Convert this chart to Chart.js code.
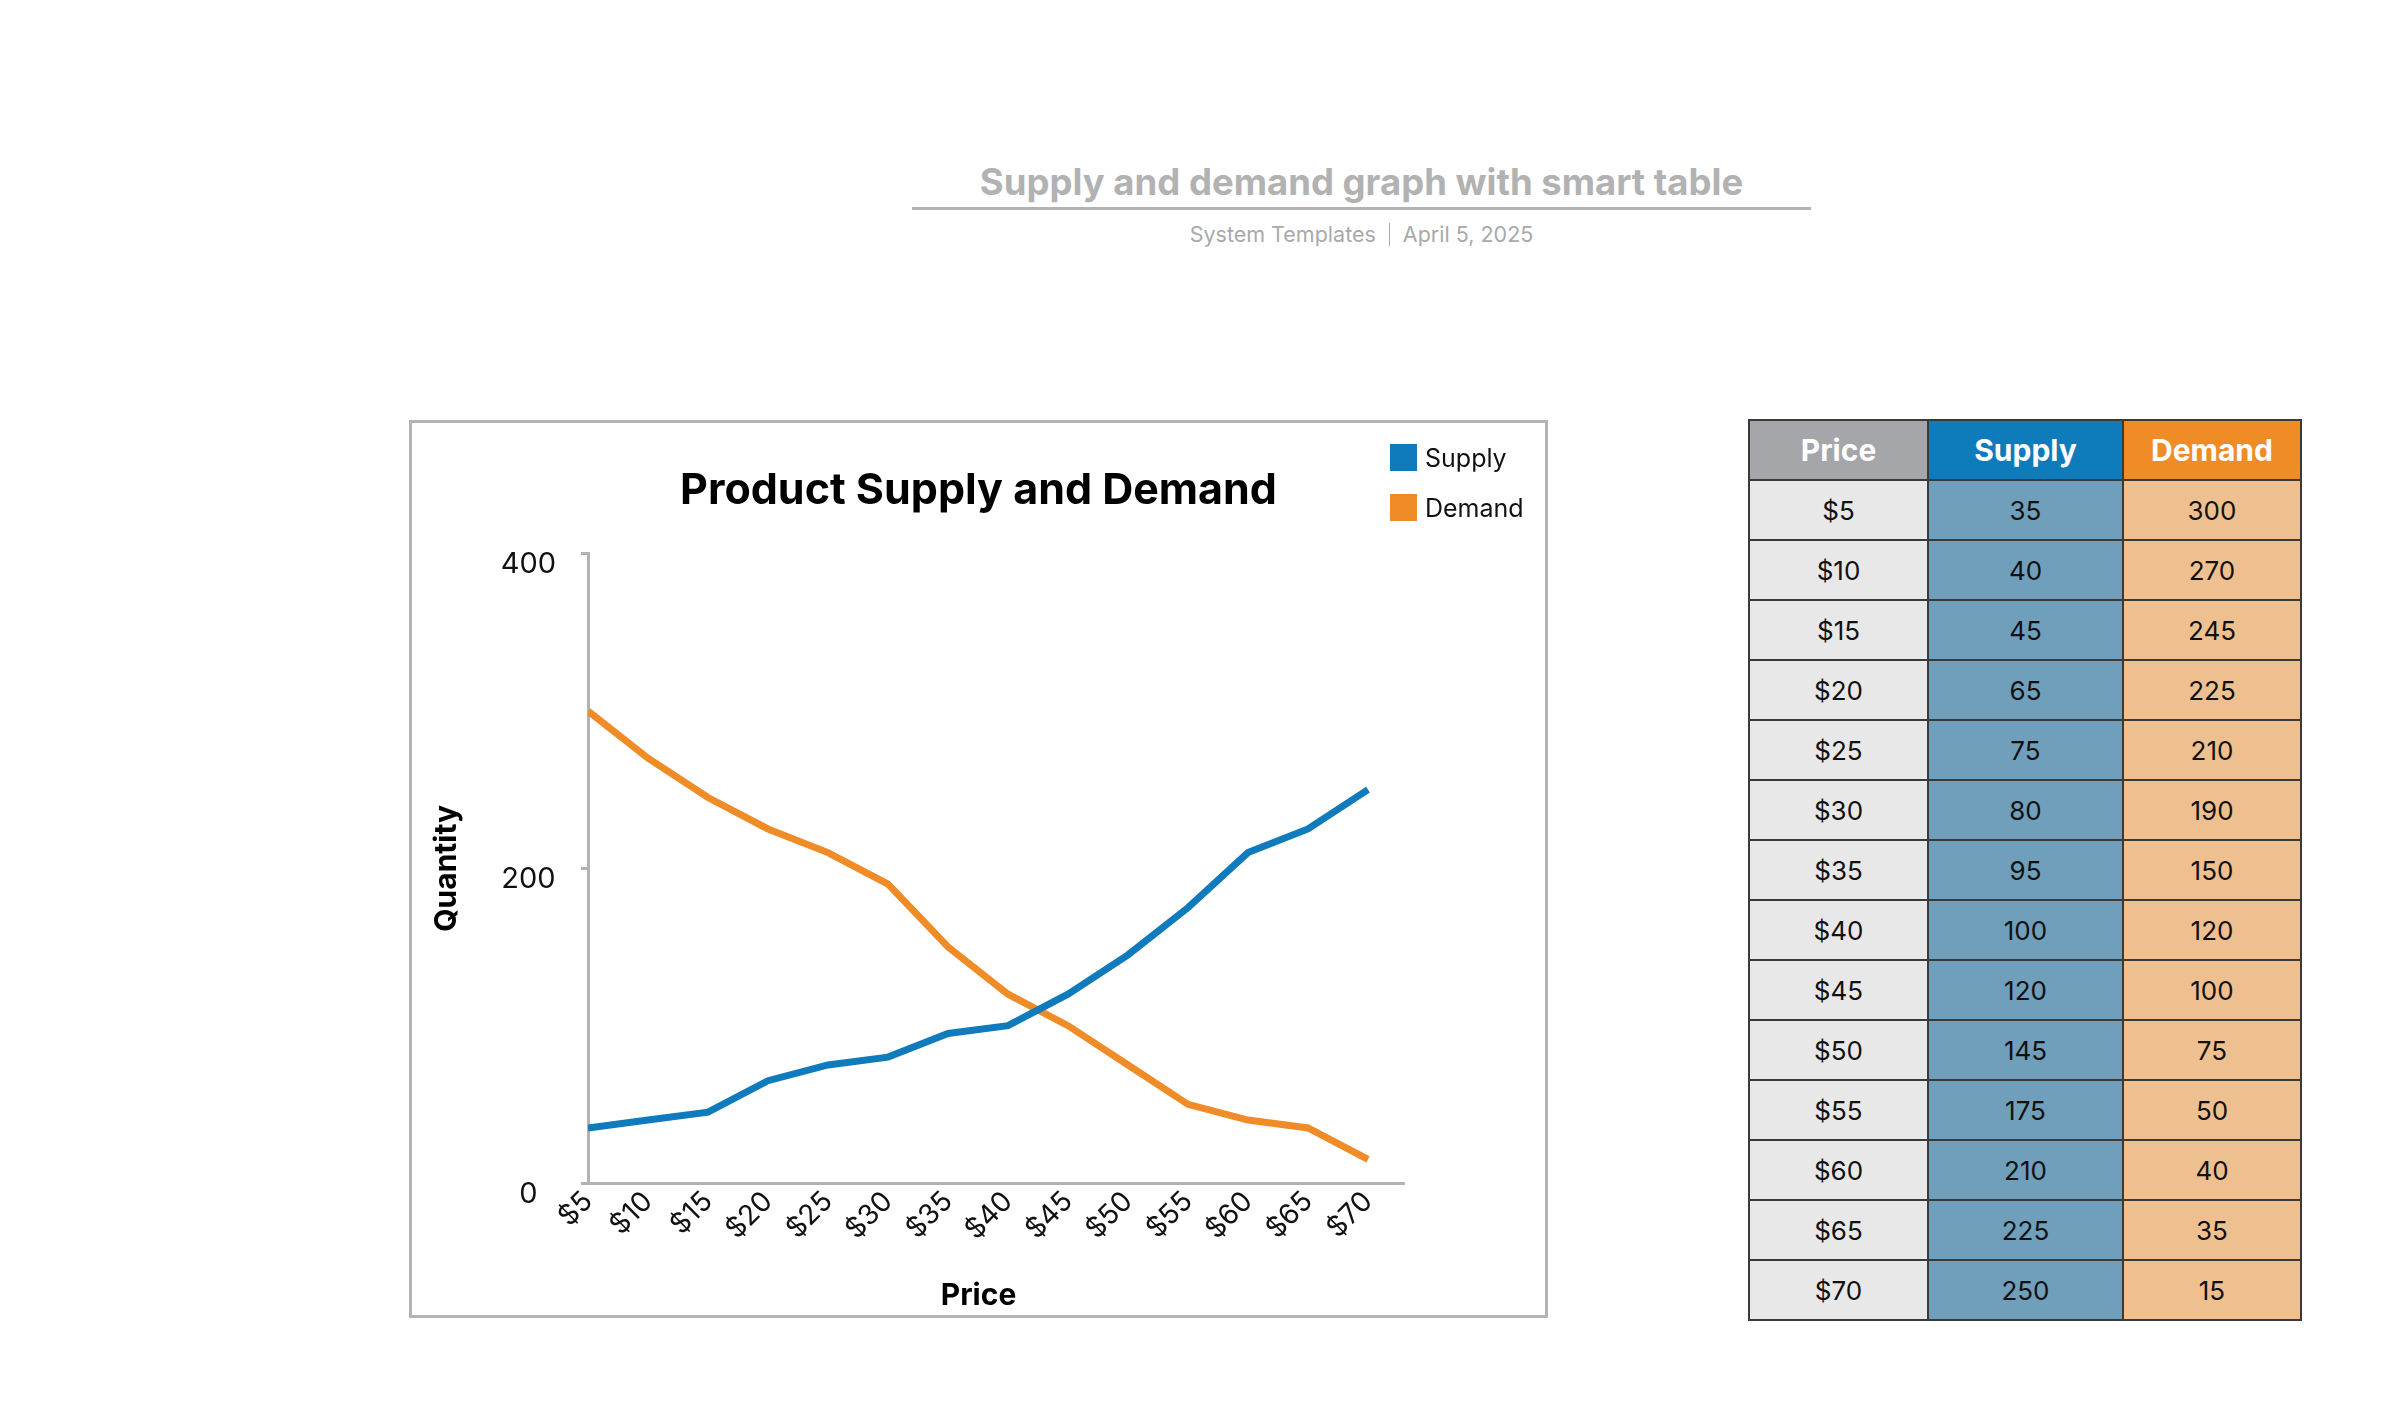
<!DOCTYPE html>
<html>
<head>
<meta charset="utf-8">
<title>Supply and demand graph with smart table</title>
<script src="https://cdn.jsdelivr.net/npm/chart.js@4.4.1/dist/chart.umd.min.js"></script>
<style>
  html, body { margin: 0; padding: 0; background: #fff; }
  body {
    position: relative;
    width: 2401px;
    height: 1415px;
    overflow: hidden;
    font-family: Inter, 'Noto Sans', sans-serif;
  }
  .doc-head { position: absolute; left: 912px; top: 157px; width: 899px; text-align: center; }
  .doc-title {
    font-size: 36.5px; font-weight: 700; color: #b2b2b2;
    line-height: 50px; border-bottom: 3px solid #b3b3b3;
  }
  .doc-meta { margin-top: 10px; font-size: 21.5px; line-height: 28px; color: #a9a9a9; }
  .doc-meta .sep {
    display: inline-block; width: 1px; height: 23px; background: #a9a9a9;
    margin: 0 13px; vertical-align: -4px;
  }
  #chart-box {
    position: absolute; left: 409px; top: 420px;
    width: 1133px; height: 892px;
    border: 3px solid #b3b3b3;
  }
  #legend { position: absolute; left: 1390px; top: 444px; margin: 0; padding: 0; list-style: none; }
  #legend li { display: flex; align-items: center; height: 27px; margin-bottom: 23px; font-size: 25px; color: #111; }
  #legend .swatch { width: 27px; height: 27px; margin-right: 8px; }
  #smart-table {
    position: absolute; left: 1748px; top: 419px;
    border-collapse: collapse; table-layout: fixed;
    font-family: Inter, 'Noto Sans', sans-serif;
  }
  #smart-table th, #smart-table td {
    border: 2px solid #3a3a3a; height: 58px; padding: 0;
    text-align: center; vertical-align: middle;
  }
  #smart-table th { font-size: 30px; font-weight: 700; color: #fff; }
  #smart-table td { font-size: 26px; color: #111; }
  .c-price { width: 177px; }
  .c-supply { width: 193px; }
  .c-demand { width: 176px; }
  th.c-price { background: #a5a6a9; }
  th.c-supply { background: #0e7bbb; }
  th.c-demand { background: #ef8c26; }
  td.c-price { background: #e8e8e8; }
  td.c-supply { background: #6f9fba; }
  td.c-demand { background: #eec08f; }
</style>
</head>
<body>
  <div class="doc-head">
    <div class="doc-title">Supply and demand graph with smart table</div>
    <div class="doc-meta">System Templates<span class="sep"></span>April 5, 2025</div>
  </div>

  <div id="chart-box"><canvas id="chart-sd"></canvas></div>
  <ul id="legend"></ul>

  <table id="smart-table">
    <thead><tr id="table-head"></tr></thead>
    <tbody id="table-body"></tbody>
  </table>

<script>
const prices = [5, 10, 15, 20, 25, 30, 35, 40, 45, 50, 55, 60, 65, 70];
const supply = [35, 40, 45, 65, 75, 80, 95, 100, 120, 145, 175, 210, 225, 250];
const demand = [300, 270, 245, 225, 210, 190, 150, 120, 100, 75, 50, 40, 35, 15];
const yTicks = [0, 200, 400];
const seriesNames = ['Supply', 'Demand'];
const columnNames = ['Price', 'Supply', 'Demand'];

const FONT = 'Inter, "Noto Sans", sans-serif';
const palette = { supply: '#0f7bbd', demand: '#f08c27', axis: '#b3b3b3', text: '#111' };

const money = (v) => '$' + v;

function buildTable() {
  const head = document.getElementById('table-head');
  const cls = ['c-price', 'c-supply', 'c-demand'];
  head.innerHTML = columnNames.map((n, i) => `<th class="${cls[i]}">${n}</th>`).join('');

  const body = document.getElementById('table-body');
  body.innerHTML = prices
    .map((p, i) => `
      <tr>
        <td class="c-price">${money(p)}</td>
        <td class="c-supply">${supply[i]}</td>
        <td class="c-demand">${demand[i]}</td>
      </tr>`)
    .join('');
}

// legend sits above the plot, top right, so it is rendered as html
const htmlLegend = {
  id: 'htmlLegend',
  afterUpdate(chart) {
    const ul = document.getElementById('legend');
    const items = chart.options.plugins.legend.labels.generateLabels(chart);
    ul.innerHTML = items
      .map((it) => `<li><span class="swatch" style="background:${it.fillStyle}"></span>${it.text}</li>`)
      .join('');
  },
};

function toPoints(values) {
  return prices.map((p, i) => ({ x: p, y: values[i] }));
}

function renderChart() {
  const el = document.getElementById('chart-sd');
  const lineColors = [palette.supply, palette.demand];

  new Chart(el, {
    type: 'line',
    data: {
      datasets: [supply, demand].map((values, i) => ({
        label: seriesNames[i],
        data: toPoints(values),
        borderColor: lineColors[i],
        backgroundColor: lineColors[i],
        borderWidth: 7,
        pointRadius: 0,
        tension: 0,
      })),
    },
    options: {
      responsive: true,
      maintainAspectRatio: false,
      animation: false,
      devicePixelRatio: 1,
      layout: { padding: 0 },
      plugins: {
        legend: { display: false },
        tooltip: { enabled: false },
        title: {
          display: true,
          text: 'Product Supply and Demand',
          color: '#000',
          font: { family: FONT, size: 43, weight: 'bold' },
          padding: { top: 42, bottom: 37 },
        },
        // x axis name is centred on the whole card, not on the plot
        subtitle: {
          display: true,
          position: 'bottom',
          text: 'Price',
          color: '#000',
          font: { family: FONT, size: 30, weight: 'bold' },
          padding: { top: 0, bottom: 1 },
        },
      },
      scales: {
        x: {
          type: 'linear',
          min: 5,
          max: 73,
          afterBuildTicks: (s) => { s.ticks = prices.map((v) => ({ value: v })); },
          afterFit: (s) => { s.height = 95; },
          grid: { display: false },
          border: { display: true, color: palette.axis, width: 3 },
          ticks: {
            autoSkip: false,
            minRotation: 45,
            maxRotation: 45,
            padding: -6,
            color: palette.text,
            font: { family: FONT, size: 28 },
            callback: (v) => money(v),
          },
        },
        y: {
          min: 0,
          max: 400,
          afterBuildTicks: (s) => { s.ticks = yTicks.map((v) => ({ value: v })); },
          afterFit: (s) => { s.width = 176; },
          grid: { drawOnChartArea: false, drawTicks: true, tickLength: 7, color: palette.axis, lineWidth: 3 },
          border: { display: true, color: palette.axis, width: 3 },
          ticks: {
            padding: 25,
            labelOffset: 11,
            crossAlign: 'center',
            color: palette.text,
            font: { family: FONT, size: 29 },
          },
          title: {
            display: true,
            text: 'Quantity',
            color: '#000',
            font: { family: FONT, size: 30, weight: 'bold' },
            padding: { top: 17, bottom: 0 },
          },
        },
        // empty right-hand gutter that keeps the plot clear of the legend column
        gutter: {
          type: 'linear',
          position: 'right',
          display: true,
          grid: { display: false },
          border: { display: false },
          ticks: { display: false },
          afterFit: (s) => { s.width = 141; },
        },
      },
    },
    plugins: [htmlLegend],
  });
}

buildTable();
renderChart();
</script>
</body>
</html>
